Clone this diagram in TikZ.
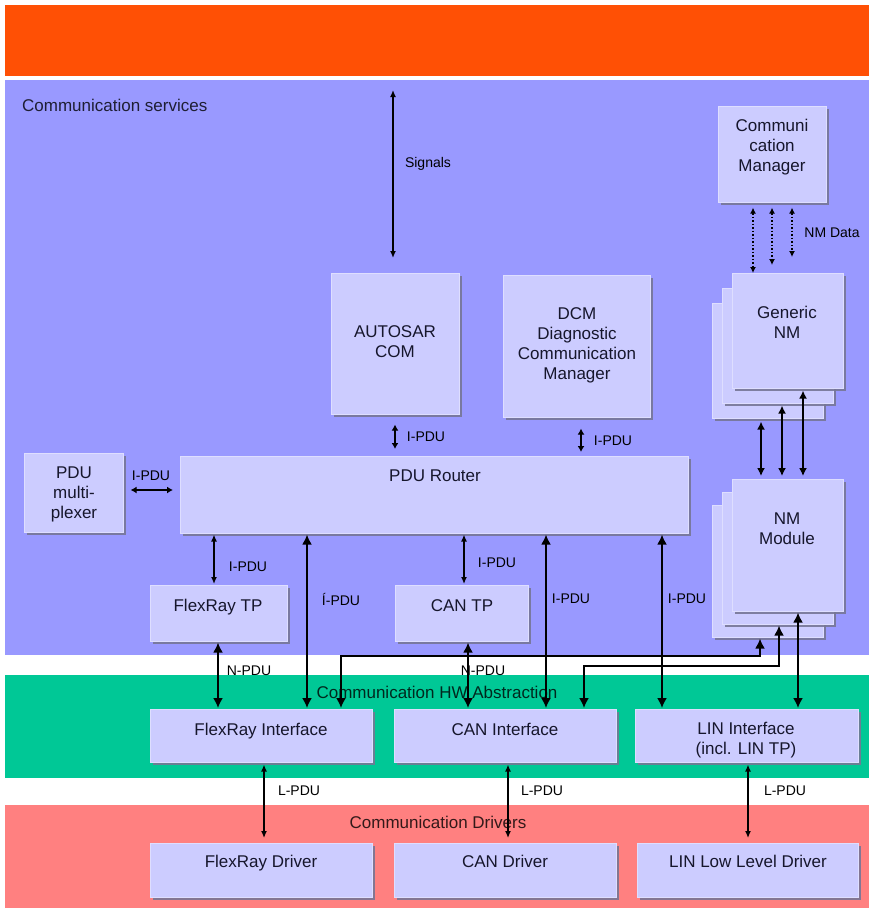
\documentclass[tikz,border=0pt]{standalone}
\usepackage{fontspec}
\setmainfont{Liberation Sans}
\usetikzlibrary{arrows.meta,shadows}
\definecolor{topband}{RGB}{255,80,5}
\definecolor{svcband}{RGB}{153,153,255}
\definecolor{hwband}{RGB}{0,200,150}
\definecolor{drvband}{RGB}{255,128,128}
\definecolor{boxfill}{RGB}{204,204,255}
\definecolor{boxedge}{RGB}{222,222,255}
\definecolor{shadowc}{RGB}{118,118,150}
\definecolor{txt}{RGB}{22,22,44}
\tikzset{
  band/.style={fill=#1, draw=none, inner sep=0pt, anchor=north west},
  blk/.style={fill=boxfill, draw=boxedge, line width=0.6pt, inner sep=0pt, anchor=north west,
    drop shadow={shadow xshift=2.5pt, shadow yshift=-2.5pt, fill=shadowc, opacity=0.9}},
  btxt/.style={font=\fontsize{17}{20}\selectfont, align=center, text=txt, inner sep=0pt},
  bline/.style={btxt, text height=12pt, text depth=0pt},
  lbl/.style={font=\fontsize{14}{16}\selectfont, text=black, inner sep=0pt, text height=10pt, text depth=0pt},
  bandtxt/.style={font=\fontsize{17}{20}\selectfont, text=black, text opacity=0.8, inner sep=0pt, text height=12pt, text depth=0pt},
  sarr/.style={line width=1.8pt, {Latex[length=6pt,width=7pt]}-{Latex[length=6pt,width=7pt]}},
  marr/.style={line width=1.3pt, {Latex[length=7pt,width=6pt]}-{Latex[length=7pt,width=6pt]}},
  narr/.style={line width=1.5pt, {Latex[length=8pt,width=8pt]}-{Latex[length=8pt,width=8pt]}},
  barr/.style={line width=1.8pt, {Latex[length=10pt,width=10pt]}-{Latex[length=10pt,width=10pt]}},
  darr/.style={line width=1.5pt, dotted, {Latex[length=6pt,width=6pt]}-{Latex[length=6pt,width=6pt]}},
}
\begin{document}
\begin{tikzpicture}[x=1pt,y=-1pt]
\useasboundingbox[fill=white] (0,0) rectangle (875,913);
% bands
\node[band=topband, minimum width=864pt, minimum height=71pt] (topb) at (5,5) {};
\node[band=svcband, minimum width=864pt, minimum height=575pt] (svcb) at (5,80) {};
\node[band=hwband, minimum width=864pt, minimum height=103pt] (hwb) at (5,675) {};
\node[band=drvband, minimum width=864pt, minimum height=103pt] (drvb) at (5,805) {};
\node[bandtxt, anchor=west] (svct) at (22,105) {Communication services};
\node[bandtxt] (hwt) at (437,692) {Communication HW Abstraction};
\node[bandtxt] (drvt) at (438,822) {Communication Drivers};
% boxes
\node[blk, minimum width=108pt, minimum height=96pt] (cm) at (718,106) {};
\node[blk, minimum width=111pt, minimum height=115pt] (gnmb) at (712,303) {};
\node[blk, minimum width=111pt, minimum height=115pt] (gnmm) at (722,288) {};
\node[blk, minimum width=111pt, minimum height=115pt] (gnm) at (732,273) {};
\node[blk, minimum width=111pt, minimum height=132pt] (nmb) at (712,505) {};
\node[blk, minimum width=111pt, minimum height=132pt] (nmm) at (722,492) {};
\node[blk, minimum width=111pt, minimum height=132pt] (nm) at (732,479) {};
\node[blk, minimum width=128pt, minimum height=141pt] (ac) at (331,273) {};
\node[blk, minimum width=147pt, minimum height=142pt] (dcm) at (503,275) {};
\node[blk, minimum width=508pt, minimum height=77pt] (router) at (180,456) {};
\node[blk, minimum width=99pt, minimum height=79pt] (mux) at (24,453) {};
\node[blk, minimum width=137pt, minimum height=56pt] (frtp) at (150,585) {};
\node[blk, minimum width=133pt, minimum height=56pt] (cantp) at (395,585) {};
\node[blk, minimum width=222pt, minimum height=53pt] (fri) at (150,709) {};
\node[blk, minimum width=222pt, minimum height=53pt] (cani) at (394,709) {};
\node[blk, minimum width=223pt, minimum height=53pt] (lini) at (635,709) {};
\node[blk, minimum width=222pt, minimum height=54pt] (frd) at (150,843) {};
\node[blk, minimum width=222pt, minimum height=54pt] (cand) at (394,843) {};
\node[blk, minimum width=221pt, minimum height=54pt] (lind) at (637,843) {};
% box texts
\node[btxt] (cm-t) at (772,147.5) {Communi\\cation\\Manager};
\node[btxt] (gnm-t) at (787,322) {Generic\\NM};
\node[btxt] (nm-t) at (787,529) {NM\\Module};
\node[btxt] (ac-t) at (395,342) {AUTOSAR\\COM};
\node[btxt] (dcm-t) at (577,345) {DCM\\Diagnostic\\Communication\\Manager};
\node[bline] (router-t) at (435,475) {PDU Router};
\node[btxt] (mux-t) at (74,494) {PDU\\multi-\\plexer};
\node[bline] (frtp-t) at (218,605) {FlexRay TP};
\node[bline] (cantp-t) at (462,605) {CAN TP};
\node[bline] (fri-t) at (261,729) {FlexRay Interface};
\node[bline] (cani-t) at (505,729) {CAN Interface};
\node[btxt] (lini-t) at (746,740.5) {LIN Interface\\(incl. LIN TP)};
\node[bline] (frd-t) at (261,861) {FlexRay Driver};
\node[bline] (cand-t) at (505,861) {CAN Driver};
\node[bline] (lind-t) at (748,861) {LIN Low Level Driver};
% labels
\node[lbl] (l-sig) at (428,162) {Signals};
\node[lbl] (l-ac) at (426,436) {I-PDU};
\node[lbl] (l-dcm) at (613,440) {I-PDU};
\node[lbl] (l-mux) at (151,475) {I-PDU};
\node[lbl] (l-frtp) at (248,566) {I-PDU};
\node[lbl] (l-cantp) at (497,562) {I-PDU};
\node[lbl] (l-fri) at (341,600) {Í-PDU};
\node[lbl] (l-cani) at (571,598) {I-PDU};
\node[lbl] (l-lini) at (687,598) {I-PDU};
\node[lbl] (l-n1) at (249,670) {N-PDU};
\node[lbl] (l-n2) at (483,670) {N-PDU};
\node[lbl] (l-nmd) at (832,232) {NM Data};
\node[lbl] (l-l1) at (299,790) {L-PDU};
\node[lbl] (l-l2) at (542,790) {L-PDU};
\node[lbl] (l-l3) at (785,790) {L-PDU};
% column / row coordinates
\coordinate (sigtop) at (393,90);
\coordinate (cB) at (395,0);
\coordinate (cC) at (581,0);
\coordinate (rMux) at (0,490);
\coordinate (cD) at (214,0);
\coordinate (cE) at (464,0);
\coordinate (cF) at (218,0);
\coordinate (cG) at (468,0);
\coordinate (cH) at (307,0);
\coordinate (cI) at (546,0);
\coordinate (cJ) at (662,0);
\coordinate (cK) at (798,0);
\coordinate (cL) at (761,0);
\coordinate (cM) at (782,0);
\coordinate (cN) at (803,0);
\coordinate (cO) at (753,0);
\coordinate (cP) at (772,0);
\coordinate (cQ) at (792,0);
\coordinate (cR) at (341,0);
\coordinate (cS) at (584,0);
\coordinate (cT) at (760,0);
\coordinate (cU) at (779,0);
\coordinate (r1) at (0,656);
\coordinate (r2) at (0,666);
\coordinate (cL1) at (264,0);
\coordinate (cL2) at (508,0);
\coordinate (cL3) at (748,0);
% arrows
\draw[marr, line width=1.5pt, shorten >=15pt] (sigtop) -- (ac.north -| sigtop);
\draw[sarr, shorten <=10pt, shorten >=7pt] (ac.south -| cB) -- (router.north -| cB);
\draw[sarr, shorten <=11pt, shorten >=4pt] (dcm.south -| cC) -- (router.north -| cC);
\draw[sarr, shorten <=7pt, shorten >=7pt] (mux.east |- rMux) -- (router.west |- rMux);
\draw[marr, shorten <=1pt, shorten >=1pt] (router.south -| cD) -- (frtp.north -| cD);
\draw[marr, shorten <=1pt, shorten >=1pt] (router.south -| cE) -- (cantp.north -| cE);
\draw[barr, shorten <=1pt, shorten >=1pt] (frtp.south -| cF) -- (fri.north -| cF);
\draw[barr, shorten <=1pt, shorten >=1pt] (cantp.south -| cG) -- (cani.north -| cG);
\draw[barr, shorten <=1pt, shorten >=1pt] (router.south -| cH) -- (fri.north -| cH);
\draw[barr, shorten <=1pt, shorten >=1pt] (router.south -| cI) -- (cani.north -| cI);
\draw[barr, shorten <=1pt, shorten >=1pt] (router.south -| cJ) -- (lini.north -| cJ);
\draw[barr, shorten <=1pt, shorten >=1pt] (nm.south -| cK) -- (lini.north -| cK);
\draw[barr, shorten <=1pt, shorten >=1pt] (fri.north -| cR) -- (cR |- r1) -- (cT |- r1) -- (nmb.south -| cT);
\draw[barr, shorten <=1pt, shorten >=1pt] (cani.north -| cS) -- (cS |- r2) -- (cU |- r2) -- (nmm.south -| cU);
\draw[narr, shorten <=3pt, shorten >=3pt] (gnmb.south -| cL) -- (nm.north -| cL);
\draw[narr, shorten <=2pt, shorten >=3pt] (gnmm.south -| cM) -- (nm.north -| cM);
\draw[narr, shorten <=2pt, shorten >=3pt] (gnm.south -| cN) -- (nm.north -| cN);
\draw[darr, shorten <=5pt, shorten >=0pt] (cm.south -| cO) -- (gnm.north -| cO);
\draw[darr, shorten <=5pt, shorten >=8pt] (cm.south -| cP) -- (gnm.north -| cP);
\draw[darr, shorten <=5pt, shorten >=16pt] (cm.south -| cQ) -- (gnm.north -| cQ);
\draw[marr, shorten <=2pt, shorten >=5pt] (fri.south -| cL1) -- (frd.north -| cL1);
\draw[marr, shorten <=2pt, shorten >=5pt] (cani.south -| cL2) -- (cand.north -| cL2);
\draw[marr, shorten <=2pt, shorten >=5pt] (lini.south -| cL3) -- (lind.north -| cL3);
\end{tikzpicture}
\end{document}
